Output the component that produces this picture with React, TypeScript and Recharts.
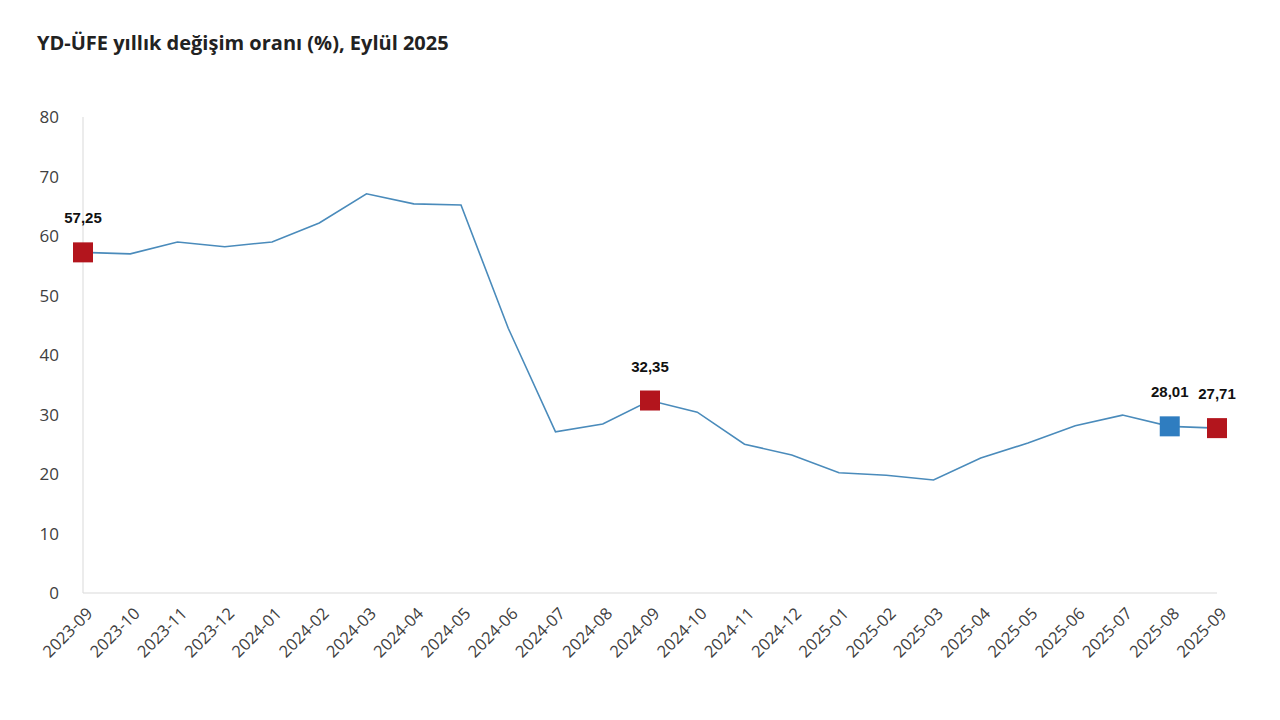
import { LineChart, Line, XAxis, YAxis } from 'recharts'

const months = [
  '2023-09', '2023-10', '2023-11', '2023-12', '2024-01', '2024-02', '2024-03',
  '2024-04', '2024-05', '2024-06', '2024-07', '2024-08', '2024-09', '2024-10',
  '2024-11', '2024-12', '2025-01', '2025-02', '2025-03', '2025-04', '2025-05',
  '2025-06', '2025-07', '2025-08', '2025-09',
]

const rates = [
  57.25, 57.0, 59.0, 58.2, 59.0, 62.2, 67.1, 65.4, 65.2, 44.5, 27.1, 28.4,
  32.35, 30.4, 25.0, 23.2, 20.2, 19.8, 19.0, 22.7, 25.2, 28.1, 29.9, 28.01, 27.71,
]

const redPoints = ['2023-09', '2024-09', '2025-09']
const bluePoints = ['2025-08']
const yTicks = [0, 10, 20, 30, 40, 50, 60, 70, 80]

const data = months.map((month, i) => ({ month, rate: rates[i] }))

const fmt = (v: number) => v.toFixed(2).replace('.', ',')

function Marker(props: any) {
  const { cx, cy, payload } = props
  const isRed = redPoints.includes(payload.month)
  const isBlue = bluePoints.includes(payload.month)
  if (!isRed && !isBlue) return <g key={payload.month} />
  const size = 20
  return (
    <g key={payload.month}>
      <rect
        x={cx - size / 2}
        y={cy - size / 2}
        width={size}
        height={size}
        fill={isRed ? '#b3151d' : '#2f7dc0'}
      />
      <text
        x={cx}
        y={cy - 29}
        textAnchor="middle"
        fontFamily="Liberation Sans, Arial, sans-serif"
        fontWeight="bold"
        fontSize={15}
        fill="#111"
      >
        {fmt(payload.rate)}
      </text>
    </g>
  )
}

function MonthTick(props: any) {
  const { x, y, payload } = props
  return (
    <text
      x={x + 6}
      y={y + 9}
      transform={`rotate(-45 ${x + 6} ${y + 9})`}
      textAnchor="end"
      dominantBaseline="central"
      fontFamily="Open Sans, sans-serif"
      fontSize={16.5}
      fill="#404040"
    >
      {payload.value}
    </text>
  )
}

export default function App() {
  return (
    <div style={{ position: 'absolute', left: 0, top: 0, width: 1280, height: 720, background: '#fff' }}>
      <div
        style={{
          position: 'absolute',
          left: 37,
          top: 29,
          fontFamily: 'Open Sans, sans-serif',
          fontWeight: 700,
          fontSize: 20,
          color: '#222',
        }}
      >
        YD-ÜFE yıllık değişim oranı (%), Eylül 2025
      </div>
      <LineChart
        width={1280}
        height={720}
        data={data}
        margin={{ top: 117, right: 63, bottom: 27, left: 23 }}
      >
        <XAxis
          dataKey="month"
          interval={0}
          height={100}
          tickLine={false}
          axisLine={{ stroke: '#d9d9d9' }}
          tick={<MonthTick />}
        />
        <YAxis
          width={60}
          domain={[0, 80]}
          ticks={yTicks}
          tickLine={false}
          axisLine={{ stroke: '#d9d9d9' }}
          tick={{ fill: '#404040', fontSize: 17, fontFamily: 'Open Sans, sans-serif' }}
          tickMargin={18}
        />
        <Line
          type="linear"
          dataKey="rate"
          stroke="#4a8bbb"
          strokeWidth={1.6}
          dot={<Marker />}
          activeDot={false}
          isAnimationActive={false}
        />
      </LineChart>
    </div>
  )
}
